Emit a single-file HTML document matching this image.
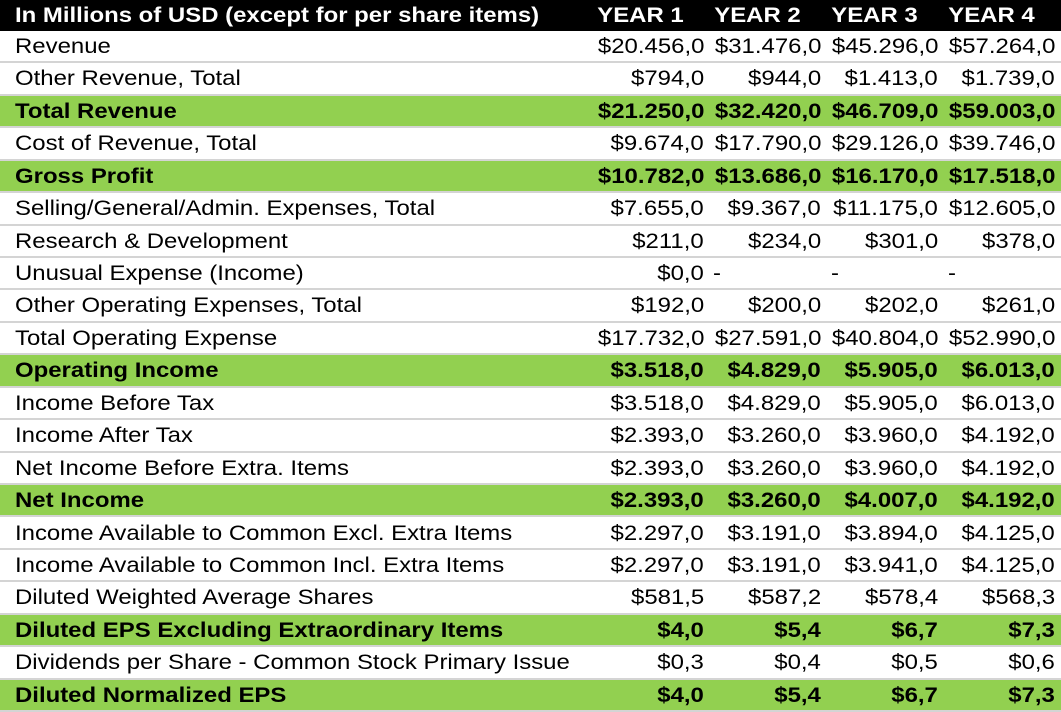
<!DOCTYPE html>
<html><head><meta charset="utf-8"><style>
body{margin:0;width:1061px;height:712px;background:#fff;overflow:hidden;font-family:"Liberation Sans",Arial,sans-serif;font-size:21px;color:#000}
.r{position:absolute;left:0;width:1061px;height:31px;border-bottom:2px solid #d4d4d4;box-sizing:content-box}
.r span{position:absolute;top:0;line-height:31px;white-space:nowrap;transform:scaleX(1.14)}
.l{left:15px;transform-origin:left center}
.c1,.c2,.c3,.c4{transform-origin:right center}
.c1{right:357px}.c2{right:240px}.c3{right:123px}.c4{right:6px}
.g{background:#92d050;font-weight:bold}
.h{background:#000;color:#fff;font-weight:bold;border-bottom:none;height:31px}
.h .y{width:117px;text-align:center;transform-origin:center}
.d{transform-origin:left center}
</style></head><body>
<div class="r h" style="top:0"><span class="l">In Millions of USD (except for per share items)</span>
<span class="y" style="left:582px">YEAR 1</span><span class="y" style="left:699px">YEAR 2</span><span class="y" style="left:816px">YEAR 3</span><span class="y" style="left:933px">YEAR 4</span></div>
<div id="rows"></div>
<script>
var d=[
["Revenue","$20.456,0","$31.476,0","$45.296,0","$57.264,0",0],
["Other Revenue, Total","$794,0","$944,0","$1.413,0","$1.739,0",0],
["Total Revenue","$21.250,0","$32.420,0","$46.709,0","$59.003,0",1],
["Cost of Revenue, Total","$9.674,0","$17.790,0","$29.126,0","$39.746,0",0],
["Gross Profit","$10.782,0","$13.686,0","$16.170,0","$17.518,0",1],
["Selling/General/Admin. Expenses, Total","$7.655,0","$9.367,0","$11.175,0","$12.605,0",0],
["Research & Development","$211,0","$234,0","$301,0","$378,0",0],
["Unusual Expense (Income)","$0,0","","","",0],
["Other Operating Expenses, Total","$192,0","$200,0","$202,0","$261,0",0],
["Total Operating Expense","$17.732,0","$27.591,0","$40.804,0","$52.990,0",0],
["Operating Income","$3.518,0","$4.829,0","$5.905,0","$6.013,0",1],
["Income Before Tax","$3.518,0","$4.829,0","$5.905,0","$6.013,0",0],
["Income After Tax","$2.393,0","$3.260,0","$3.960,0","$4.192,0",0],
["Net Income Before Extra. Items","$2.393,0","$3.260,0","$3.960,0","$4.192,0",0],
["Net Income","$2.393,0","$3.260,0","$4.007,0","$4.192,0",1],
["Income Available to Common Excl. Extra Items","$2.297,0","$3.191,0","$3.894,0","$4.125,0",0],
["Income Available to Common Incl. Extra Items","$2.297,0","$3.191,0","$3.941,0","$4.125,0",0],
["Diluted Weighted Average Shares","$581,5","$587,2","$578,4","$568,3",0],
["Diluted EPS Excluding Extraordinary Items","$4,0","$5,4","$6,7","$7,3",1],
["Dividends per Share - Common Stock Primary Issue","$0,3","$0,4","$0,5","$0,6",0],
["Diluted Normalized EPS","$4,0","$5,4","$6,7","$7,3",1]];
var h="";
d.forEach(function(r,i){
var t=31+i*32.43;
h+='<div class="r'+(r[5]?' g':'')+'" style="top:'+t.toFixed(1)+'px;height:30.4px"><span class="l">'+r[0].replace('&','&amp;')+'</span>';
if(i==7){h+='<span class="c1">$0,0</span><span class="d" style="left:713px">-</span><span class="d" style="left:831px">-</span><span class="d" style="left:948px">-</span>';}
else{for(var k=1;k<5;k++)h+='<span class="c'+k+'">'+r[k]+'</span>';}
h+='</div>';});
document.getElementById("rows").innerHTML=h;
</script>
</body></html>
